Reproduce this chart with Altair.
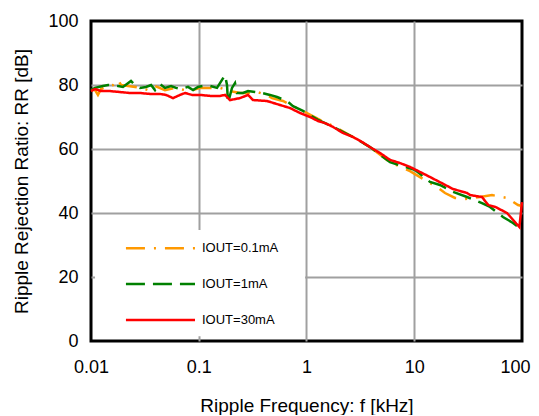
import altair as alt
import pandas as pd

# ---- data ----
series_names = ["IOUT=0.1mA", "IOUT=1mA", "IOUT=30mA"]

f_01 = [0.01, 0.0109, 0.0116, 0.0124, 0.0144, 0.0160, 0.0178, 0.0190, 0.0221, 0.0291,
        0.0338, 0.0393, 0.0486, 0.0602, 0.0746, 0.0885, 0.1027, 0.1356, 0.1575, 0.1950,
        0.2415, 0.2990, 0.3473, 0.4300, 0.4784, 0.6053, 0.7494, 1.011, 1.279, 1.762,
        2.702, 3.885, 5.956, 9.133, 13.4, 16.3, 19.3, 23.9, 29.6, 40.7, 52.7, 72.6, 91.8, 100]
rr_01 = [78.4, 78.4, 76.9, 78.75, 79.7, 80.0, 81.6, 80.0, 79.7, 79.1,
         78.4, 79.7, 78.4, 79.1, 78.4, 78.4, 79.1, 79.1, 79.1, 78.1,
         77.5, 77.5, 77.8, 76.9, 75.9, 75.0, 73.4, 71.25, 69.4, 67.2,
         63.75, 60.6, 55.9, 53.1, 49.7, 48.1, 46.25, 44.7, 44.4, 45.0, 45.6, 44.7, 42.5, 42.2]

f_1 = [0.01, 0.0109, 0.0129, 0.0144, 0.0178, 0.0198, 0.0235, 0.0256, 0.0285, 0.0324,
       0.0361, 0.0393, 0.0437, 0.0486, 0.0553, 0.0615, 0.0685, 0.0795, 0.0885, 0.0984,
       0.1095, 0.1272, 0.1477, 0.1752, 0.1829, 0.1869, 0.2035, 0.2170, 0.2265, 0.2575,
       0.2865, 0.3327, 0.3864, 0.4585, 0.5323, 0.6592, 0.7494, 0.9279, 1.078, 1.279,
       1.762, 2.702, 3.885, 5.956, 10.2, 14.0, 17.3, 22.9, 30.9, 42.5, 50.5, 66.6, 82.5, 100]
rr_1 = [78.4, 79.1, 79.7, 80.0, 79.7, 79.4, 81.25, 80.0, 79.1, 79.4,
        80.0, 78.4, 80.3, 79.1, 79.7, 79.1, 78.75, 79.4, 78.4, 79.4,
        79.7, 79.7, 79.1, 83.1, 80.0, 74.4, 79.1, 80.6, 77.5, 77.5,
        78.1, 77.8, 77.5, 76.9, 76.25, 75.0, 73.4, 71.9, 70.6, 69.1,
        66.9, 63.75, 60.6, 55.9, 53.4, 49.7, 48.75, 46.6, 45.0, 43.1, 41.9, 38.75, 36.9, 34.7]

f_30 = [0.01, 0.0109, 0.0124, 0.0150, 0.0186, 0.0230, 0.0285, 0.0353, 0.0437, 0.0497,
        0.0577, 0.0670, 0.0746, 0.0866, 0.1027, 0.1272, 0.1575, 0.1752, 0.1950, 0.2415,
        0.2865, 0.3188, 0.4300, 0.5678, 0.7030, 0.8704, 1.078, 1.279, 1.485, 1.762,
        2.182, 2.702, 3.273, 3.885, 4.810, 5.956, 7.375, 9.133, 14.0, 22.9,
        30.9, 33.0, 42.5, 48.6, 56.5, 72.6, 94.6, 100]
rr_30 = [78.1, 78.75, 78.1, 78.1, 77.8, 77.5, 77.5, 77.2, 77.2, 76.9,
         75.9, 76.9, 77.5, 76.9, 76.9, 76.6, 76.6, 76.9, 75.3, 75.9,
         76.9, 75.3, 75.0, 73.75, 72.8, 71.25, 70.0, 68.75, 68.1, 66.9,
         65.0, 63.75, 62.2, 60.6, 58.75, 56.6, 55.6, 54.4, 51.25, 47.5,
         46.25, 45.6, 45.0, 42.5, 41.9, 40.0, 35.6, 43.4]

x_ticks = [0.01, 0.1, 1, 10, 100]
y_ticks = [0, 20, 40, 60, 80, 100]

# ---- styles ----
series_colors = ["#FF9900", "#008000", "#FF0000"]
series_dashes = [[19, 9, 2, 9], [19, 8], [1, 0]]
FONT = "Liberation Sans"

# ---- tables ----
rows = []
for name, fs, rs in zip(series_names, [f_01, f_1, f_30], [rr_01, rr_1, rr_30]):
    for f, r in zip(fs, rs):
        rows.append({"series": name, "f": f, "rr": r})
df = pd.DataFrame(rows)

# legend placement (in data units of the chart's scales)
legend_box = pd.DataFrame([{"x0": 0.0109, "x1": 0.97, "y0": 1.5, "y1": 34.7}])
legend_items = pd.DataFrame({
    "series": series_names,
    "lx0": [0.0211] * 3,
    "lx1": [0.0923] * 3,
    "tx": [0.1072] * 3,
    "ly": [29.0, 17.8, 6.6],
})

x_scale = alt.Scale(type="log", domain=[0.01, 100], nice=False)
y_scale = alt.Scale(domain=[0, 100], nice=False)
color_scale = alt.Scale(domain=series_names, range=series_colors)
dash_scale = alt.Scale(domain=series_names, range=series_dashes)

x_axis = alt.Axis(
    values=x_ticks, format="~g", title="Ripple Frequency: f [kHz]",
    grid=True, gridColor="#a0a0a0", gridWidth=2,
    gridOpacity={"condition": {"test": "datum.value <= 0.011 || datum.value >= 99", "value": 0}, "value": 1},
    domain=False, ticks=False, tickSize=0, labelPadding=17, labelFlush=False,
    labelOffset={"condition": {"test": "datum.value >= 99", "value": -7}, "value": 0},
    labelFont=FONT, labelFontSize=18, labelColor="black",
    titleFont=FONT, titleFontSize=19, titleFontWeight="normal", titleColor="black",
    titlePadding=20,
)
y_axis = alt.Axis(
    values=y_ticks, title="Ripple Rejection Ratio: RR [dB]",
    grid=True, gridColor="#a0a0a0", gridWidth=2,
    gridOpacity={"condition": {"test": "datum.value <= 0.5 || datum.value >= 99.5", "value": 0}, "value": 1},
    domain=False, ticks=False, tickSize=0, labelPadding=13,
    labelFont=FONT, labelFontSize=18, labelColor="black",
    titleFont=FONT, titleFontSize=19, titleFontWeight="normal", titleColor="black",
    titlePadding=16,
)

box = alt.Chart(legend_box).mark_rect(fill="white").encode(
    x=alt.X("x0:Q", scale=x_scale, axis=x_axis),
    x2="x1:Q",
    y=alt.Y("y0:Q", scale=y_scale, axis=y_axis),
    y2="y1:Q",
)

lines = alt.Chart(df).mark_line(strokeWidth=2.5).encode(
    x=alt.X("f:Q", scale=x_scale, axis=x_axis),
    y=alt.Y("rr:Q", scale=y_scale, axis=y_axis),
    color=alt.Color("series:N", scale=color_scale, legend=None),
    strokeDash=alt.StrokeDash("series:N", scale=dash_scale, legend=None),
    detail="series:N",
)

leg_lines = alt.Chart(legend_items).mark_rule(strokeWidth=2.5).encode(
    x=alt.X("lx0:Q", scale=x_scale, axis=x_axis),
    x2="lx1:Q",
    y=alt.Y("ly:Q", scale=y_scale, axis=y_axis),
    color=alt.Color("series:N", scale=color_scale, legend=None),
    strokeDash=alt.StrokeDash("series:N", scale=dash_scale, legend=None),
)

leg_text = alt.Chart(legend_items).mark_text(
    align="left", baseline="middle", font=FONT, fontSize=13, color="black"
).encode(
    x=alt.X("tx:Q", scale=x_scale, axis=x_axis),
    y=alt.Y("ly:Q", scale=y_scale, axis=y_axis),
    text="series:N",
)

chart = alt.layer(box, lines, leg_lines, leg_text).properties(
    width=431, height=320,
    padding={"left": 83, "top": 13, "right": 9, "bottom": 74},
    autosize=alt.AutoSizeParams(type="none"),
    background="white",
).configure_view(stroke="black", strokeWidth=3)

chart.save("out.html", embed_options={"renderer": "svg", "actions": False})
